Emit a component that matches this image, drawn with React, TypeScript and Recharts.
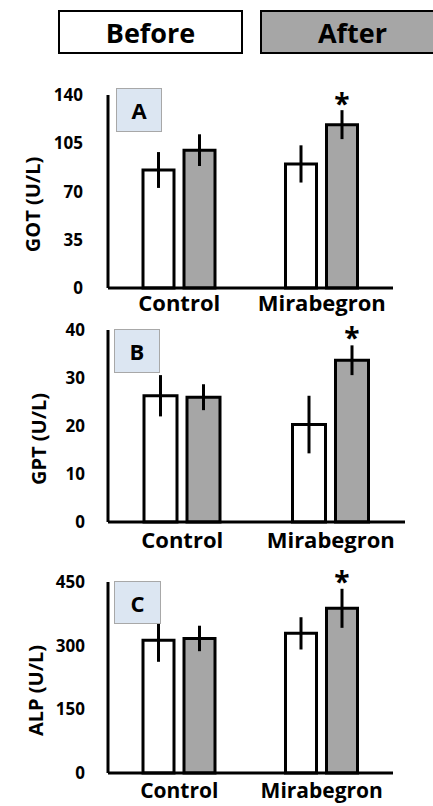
import { BarChart, Bar, XAxis, YAxis, ErrorBar, LabelList } from "recharts";

const groups = ["Control", "Mirabegron"];
const seriesNames = ["Before", "After"];
const sig = ["", "*"];

const gotBefore = [85.6, 90];
const gotBeforeErr = [13, 13.5];
const gotAfter = [100, 118.5];
const gotAfterErr = [11.5, 10.5];
const gotTicks = [0, 35, 70, 105, 140];

const gptBefore = [26.3, 20.3];
const gptBeforeErr = [4.3, 6];
const gptAfter = [26, 33.7];
const gptAfterErr = [2.7, 3.1];
const gptTicks = [0, 10, 20, 30, 40];

const alpBefore = [313, 329];
const alpBeforeErr = [51, 38];
const alpAfter = [317, 388];
const alpAfterErr = [30, 46];
const alpTicks = [0, 150, 300, 450];

const FONT = "'Open Sans', sans-serif";
const GRAY = "#a6a6a6";

function rows(before: number[], beforeErr: number[], after: number[], afterErr: number[]) {
  return groups.map((g, i) => ({
    group: g,
    before: before[i],
    beforeErr: beforeErr[i],
    after: after[i],
    afterErr: afterErr[i],
    sig: sig[i],
  }));
}

function YTitle(props: any) {
  const { viewBox, value, cx, dy } = props;
  const cy = viewBox.y + viewBox.height / 2 + dy;
  return (
    <text
      x={cx}
      y={cy}
      transform={`rotate(-90, ${cx}, ${cy})`}
      textAnchor="middle"
      dominantBaseline="central"
      fontFamily={FONT}
      fontWeight={700}
      fontSize={20}
      fill="#000"
    >
      {value}
    </text>
  );
}

function Star(props: any) {
  const { x, y, width, value, lift } = props;
  if (!value) return null;
  return (
    <text x={x + width / 2} y={y - lift} textAnchor="middle" fontFamily={FONT} fontWeight={700} fontSize={28} fill="#000">
      {value}
    </text>
  );
}

function Panel(props: any) {
  const { data, top, height, margin, domain, ticks, title, titleX, letter, box, xTickMargin, xFont, barSize, lift, yTickMargin } = props;
  return (
    <>
      <div style={{ position: "absolute", left: 0, top }}>
        <BarChart width={433} height={height} data={data} margin={margin} barSize={barSize} barGap={10} style={{ overflow: "visible" }}>
          <XAxis
            dataKey="group"
            height={30}
            tickLine={false}
            tickSize={6}
            tickMargin={xTickMargin}
            axisLine={{ stroke: "#000", strokeWidth: 3 }}
            tick={{ fill: "#000", fontFamily: FONT, fontWeight: 700, fontSize: xFont }}
          />
          <YAxis
            width={108}
            domain={domain}
            ticks={ticks}
            tickLine={false}
            tickSize={6}
            tickMargin={yTickMargin}
            axisLine={{ stroke: "#000", strokeWidth: 3 }}
            tick={{ fill: "#000", fontFamily: FONT, fontWeight: 700, fontSize: 17 }}
            label={<YTitle value={title} cx={titleX} dy={13} />}
          />
          <Bar dataKey="before" name={seriesNames[0]} fill="#fff" stroke="#000" strokeWidth={3} isAnimationActive={false}>
            <ErrorBar dataKey="beforeErr" width={0} stroke="#000" strokeWidth={3} />
          </Bar>
          <Bar dataKey="after" name={seriesNames[1]} fill={GRAY} stroke="#000" strokeWidth={3} isAnimationActive={false}>
            <ErrorBar dataKey="afterErr" width={0} stroke="#000" strokeWidth={3} />
            <LabelList dataKey="sig" content={<Star lift={lift} />} />
          </Bar>
        </BarChart>
      </div>
      <div
        style={{
          position: "absolute",
          left: box[0],
          top: box[1],
          width: box[2],
          height: box[3],
          boxSizing: "border-box",
          background: "#dce6f2",
          border: "1.5px solid #a8a8a8",
          display: "flex",
          alignItems: "center",
          justifyContent: "center",
          fontFamily: FONT,
          fontWeight: 700,
          fontSize: 22,
        }}
      >
        {letter}
      </div>
    </>
  );
}

export default function App() {
  const legendFill = ["#fff", GRAY];
  const legendLeft = [58, 260];
  return (
    <div
      style={{
        position: "absolute",
        left: 0,
        top: 0,
        width: 433,
        height: 806,
        overflow: "hidden",
        background: "#fff",
        fontFamily: FONT,
      }}
    >
      {seriesNames.map((n, i) => (
        <div
          key={n}
          style={{
            position: "absolute",
            left: legendLeft[i],
            top: 10,
            width: 185,
            height: 44,
            boxSizing: "border-box",
            border: "2.5px solid #000",
            background: legendFill[i],
            display: "flex",
            alignItems: "center",
            justifyContent: "center",
            fontWeight: 700,
            fontSize: 27,
          }}
        >
          {n}
        </div>
      ))}
      <Panel
        data={rows(gotBefore, gotBeforeErr, gotAfter, gotAfterErr)}
        top={80}
        height={245}
        margin={{ top: 15, right: 40, bottom: 7, left: 0 }}
        domain={[0, 140]}
        ticks={gotTicks}
        title="GOT (U/L)"
        titleX={32}
        letter="A"
        box={[116, 88, 46, 44]}
        xTickMargin={1}
        xFont={22}
        yTickMargin={19}
        barSize={31}
        lift={11}
      />
      <Panel
        data={rows(gptBefore, gptBeforeErr, gptAfter, gptAfterErr)}
        top={315}
        height={250}
        margin={{ top: 15, right: 28, bottom: 13, left: 0 }}
        domain={[0, 40]}
        ticks={gptTicks}
        title="GPT (U/L)"
        titleX={38}
        letter="B"
        box={[114, 329, 46, 44]}
        xTickMargin={4}
        xFont={22}
        yTickMargin={17}
        barSize={33}
        lift={12}
      />
      <Panel
        data={rows(alpBefore, alpBeforeErr, alpAfter, alpAfterErr)}
        top={560}
        height={246}
        margin={{ top: 22, right: 40, bottom: 3, left: 0 }}
        domain={[0, 450]}
        ticks={alpTicks}
        title="ALP (U/L)"
        titleX={35}
        letter="C"
        box={[114, 581, 47, 43]}
        xTickMargin={4}
        xFont={21}
        yTickMargin={17}
        barSize={31}
        lift={16}
      />
    </div>
  );
}
